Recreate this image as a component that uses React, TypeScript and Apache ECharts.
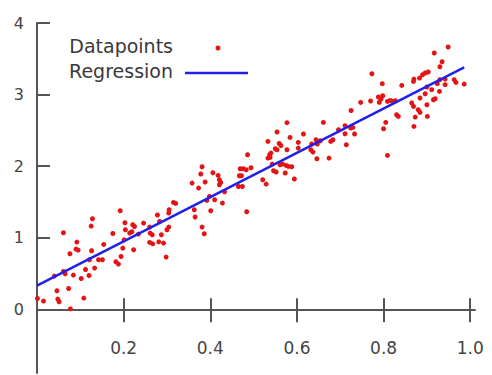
import React, { useEffect, useRef } from "react";
import * as echarts from "echarts";

// Scatter data
const pointX = [
  0.128, 0.125, 0.061, 0.092, 0.090, 0.095, 0.076, 0.126, 0.121, 0.142,
  0.133, 0.061, 0.065, 0.040, 0.084, 0.112, 0.102, 0.120, 0.046, 0.073,
  0.001, 0.015, 0.048, 0.051, 0.108, 0.077,
  0.154, 0.151, 0.192, 0.305, 0.304, 0.278, 0.203, 0.221, 0.225, 0.246,
  0.283, 0.260, 0.304, 0.300, 0.204, 0.175, 0.214, 0.219, 0.261, 0.266,
  0.287, 0.234, 0.201, 0.260, 0.267, 0.281, 0.292, 0.198, 0.223, 0.194,
  0.182, 0.188, 0.298,
  0.315, 0.320, 0.381, 0.378, 0.406, 0.418, 0.421, 0.424, 0.421, 0.358,
  0.388, 0.373, 0.363, 0.365, 0.398, 0.410, 0.392, 0.428, 0.401, 0.381,
  0.386, 0.433,
  0.486, 0.469, 0.476, 0.483, 0.494, 0.467, 0.472, 0.465, 0.474, 0.484,
  0.577, 0.554, 0.584, 0.615, 0.533, 0.559, 0.563, 0.603, 0.634, 0.644,
  0.647, 0.550, 0.554, 0.577, 0.603, 0.540, 0.537, 0.632, 0.637, 0.533,
  0.538, 0.646, 0.543, 0.561, 0.567, 0.575, 0.580, 0.588, 0.546, 0.552,
  0.573, 0.521, 0.529, 0.594,
  0.654, 0.773, 0.797, 0.747, 0.770, 0.788, 0.794, 0.790, 0.798, 0.809,
  0.725, 0.661, 0.711, 0.724, 0.729, 0.696, 0.805, 0.800, 0.711, 0.733,
  0.683, 0.678, 0.714, 0.809, 0.674,
  0.949, 0.917, 0.935, 0.930, 0.903, 0.896, 0.890, 0.870, 0.869, 0.883,
  0.942, 0.930, 0.963, 0.967, 0.842, 0.924, 0.942, 0.986, 0.900, 0.911,
  0.929, 0.896, 0.884, 0.919, 0.915, 0.865, 0.869, 0.900, 0.815, 0.821,
  0.827, 0.880, 0.884, 0.830, 0.834, 0.873, 0.901, 0.870,
];
const pointY = [
  1.265, 1.163, 1.069, 0.939, 0.841, 0.827, 0.776, 0.818, 0.692, 0.692,
  0.576, 0.528, 0.496, 0.464, 0.478, 0.556, 0.430, 0.472, 0.259, 0.291,
  0.151, 0.115, 0.143, 0.105, 0.157, 0.007,
  0.906, 0.692, 1.377, 1.391, 1.345, 1.317, 1.209, 1.181, 1.157, 1.205,
  1.227, 1.149, 1.149, 1.111, 1.111, 1.059, 1.065, 1.083, 1.065, 1.041,
  1.041, 1.051, 0.971, 0.934, 0.915, 0.943, 0.925, 0.855, 0.832, 0.738,
  0.664, 0.632, 0.730,
  1.493, 1.479, 1.992, 1.890, 1.908, 1.870, 1.810, 1.772, 1.740, 1.764,
  1.778, 1.694, 1.391, 1.289, 1.577, 1.530, 1.521, 1.484, 1.377, 1.149,
  1.055, 1.642,
  2.159, 1.964, 1.964, 1.950, 1.978, 1.866, 1.866, 1.716, 1.716, 1.363,
  2.607, 2.477, 2.401, 2.449, 2.345, 2.317, 2.289, 2.331, 2.309, 2.369,
  2.309, 2.243, 2.229, 2.229, 2.253, 2.183, 2.159, 2.229, 2.197, 2.113,
  2.122, 2.103, 2.029, 2.020, 2.029, 2.010, 1.996, 1.992, 1.936, 1.918,
  1.904, 1.810, 1.750, 1.820,
  2.355, 3.291, 3.152, 2.890, 2.910, 2.966, 2.938, 2.890, 2.984, 2.904,
  2.778, 2.611, 2.565, 2.533, 2.541, 2.509, 2.611, 2.523, 2.453, 2.449,
  2.369, 2.345, 2.299, 2.150, 2.113,
  3.665, 3.581, 3.459, 3.389, 3.315, 3.301, 3.277, 3.217, 3.184, 3.231,
  3.217, 3.208, 3.208, 3.170, 3.128, 3.152, 3.138, 3.147, 3.106, 3.068,
  3.044, 3.012, 2.952, 2.942, 2.928, 2.882, 2.834, 2.858, 2.918, 2.904,
  2.914, 2.788, 2.751, 2.718, 2.695, 2.686, 2.695, 2.555,
];

// Regression line end points
const regressionX = [0, 0.986];
const regressionY = [0.33, 3.38];

// Tick labels
const xTickValues = [0.2, 0.4, 0.6, 0.8, 1.0];
const yTickValues = [0, 1, 2, 3, 4];

const legendNames = ["Datapoints", "Regression"];

const Y_MIN = -0.89;
const Y_MAX = 4;

export default function App() {
  const ref = useRef<HTMLDivElement>(null);

  useEffect(() => {
    if (!ref.current) return;
    const chart = echarts.init(ref.current, undefined, { renderer: "svg" });
    const axisColor = "#555555";
    const textColor = "#444444";
    const font = "DejaVu Sans";

    const gridTop = 23;
    const gridBottom = 2;
    const gridHeight = 375 - gridTop - gridBottom;
    // move the x axis up from the grid bottom to the y = 0 level
    const xAxisOffset = -gridHeight * (0 - Y_MIN) / (Y_MAX - Y_MIN);

    const scatterData = pointX.map((x, i) => [x, pointY[i]]);
    const lineData = regressionX.map((x, i) => [x, regressionY[i]]);

    chart.setOption({
      animation: false,
      backgroundColor: "#ffffff",
      grid: {
        left: 37,
        right: 17,
        top: gridTop,
        bottom: gridBottom,
        outerBoundsMode: "none",
      },
      xAxis: [
        {
          type: "value",
          position: "bottom",
          offset: xAxisOffset,
          min: 0,
          max: 1.011,
          axisLine: { show: true, onZero: false, lineStyle: { color: axisColor, width: 2 } },
          axisTick: {
            show: true,
            customValues: xTickValues,
            length: 13,
            lineStyle: { color: axisColor, width: 2 },
          },
          axisLabel: {
            show: true,
            customValues: xTickValues,
            margin: 30,
            fontSize: 17,
            fontFamily: font,
            color: textColor,
            formatter: (v: number) => v.toFixed(1),
          },
          splitLine: { show: false },
        },
        {
          type: "value",
          position: "bottom",
          offset: xAxisOffset,
          min: 0,
          max: 1.011,
          axisLine: { show: false, onZero: false },
          axisTick: {
            show: true,
            inside: true,
            customValues: xTickValues,
            length: 11,
            lineStyle: { color: axisColor, width: 2 },
          },
          axisLabel: { show: false },
          splitLine: { show: false },
        },
      ],
      yAxis: {
        type: "value",
        min: Y_MIN,
        max: Y_MAX,
        axisLine: { show: true, onZero: false, lineStyle: { color: axisColor, width: 2 } },
        axisTick: {
          show: true,
          inside: true,
          customValues: yTickValues,
          length: 13,
          lineStyle: { color: axisColor, width: 2 },
        },
        axisLabel: {
          show: true,
          customValues: yTickValues,
          margin: 13,
          fontSize: 16,
          fontFamily: font,
          color: textColor,
        },
        splitLine: { show: false },
      },
      series: [
        {
          name: legendNames[0],
          type: "scatter",
          xAxisIndex: 0,
          data: scatterData,
          symbol: "circle",
          symbolSize: 5,
          itemStyle: { color: "#e41414", opacity: 1 },
          z: 2,
        },
        {
          name: legendNames[1],
          type: "line",
          xAxisIndex: 0,
          data: lineData,
          showSymbol: false,
          symbol: "none",
          lineStyle: { color: "#2020e8", width: 2.5 },
          z: 3,
        },
      ],
      graphic: [
        {
          type: "text",
          right: 492 - 173,
          top: 36,
          style: {
            text: legendNames[0],
            fontSize: 19,
            fontFamily: font,
            fill: "#3a3a3a",
          },
        },
        {
          type: "text",
          right: 492 - 173,
          top: 61,
          style: {
            text: legendNames[1],
            fontSize: 19,
            fontFamily: font,
            fill: "#3a3a3a",
          },
        },
        {
          type: "circle",
          shape: { cx: 218, cy: 48, r: 2.5 },
          style: { fill: "#e41414" },
        },
        {
          type: "line",
          shape: { x1: 185, y1: 73, x2: 248, y2: 73 },
          style: { stroke: "#2020e8", lineWidth: 2.5 },
        },
      ],
    });

    return () => chart.dispose();
  }, []);

  return (
    <div
      ref={ref}
      style={{ position: "fixed", left: 0, top: 0, width: 492, height: 375 }}
    />
  );
}
